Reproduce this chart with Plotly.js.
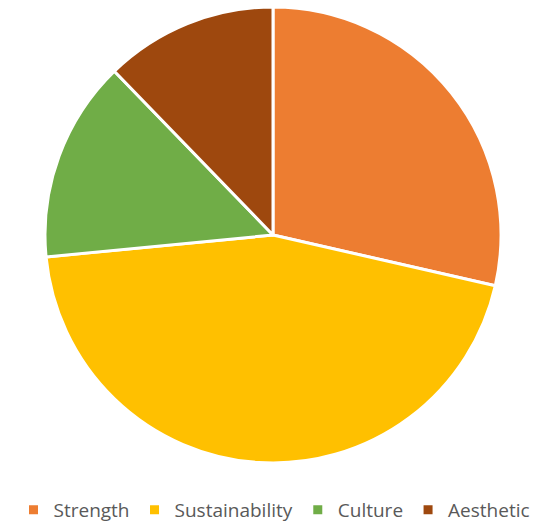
<!DOCTYPE html>
<html><head><meta charset="utf-8">
<script src="https://cdn.plot.ly/plotly-3.0.1.min.js"></script>
<style>html,body{margin:0;padding:0;background:#fff}#chart{width:549px;height:526px}</style>
</head><body><div id="chart"></div>
<script>
const categories = ["Strength", "Sustainability", "Culture", "Aesthetic"];
const values = [14, 22, 7, 6];
const colors = ["#ED7D31", "#FFC000", "#70AD47", "#9E480E"];

const W = 549, H = 526, cx = 273, cy = 235, r = 228;
Plotly.newPlot("chart", [{
  type: "pie",
  labels: categories,
  values: values,
  sort: false,
  direction: "clockwise",
  rotation: 0,
  textinfo: "none",
  hoverinfo: "label+value",
  automargin: false,
  marker: {colors: colors, line: {color: "#ffffff", width: 3}},
  domain: {x: [(cx - r) / W, (cx + r) / W], y: [1 - (cy + r) / H, 1 - (cy - r) / H]}
}], {
  width: W, height: H,
  margin: {l: 0, r: 0, t: 0, b: 0, autoexpand: false},
  paper_bgcolor: "#ffffff",
  showlegend: true,
  legend: {orientation: "h", x: 0.5, xanchor: "center", y: 1 - 510 / H, yanchor: "middle",
           font: {family: "Open Sans, sans-serif", size: 19, color: "#595959"}, itemwidth: 30, traceorder: "normal"}
}, {displayModeBar: false});
</script></body></html>
